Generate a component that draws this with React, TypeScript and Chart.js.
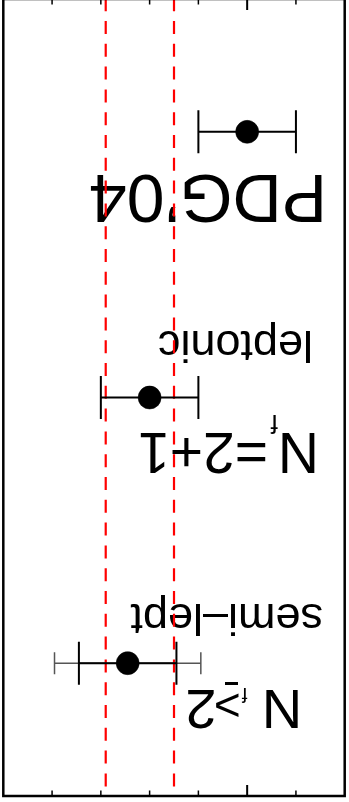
import { useEffect, useRef } from 'react';
import { Chart, registerables } from 'chart.js';

Chart.register(...registerables);

// |V_us| determinations, one row each (row index runs bottom to top)
const rowPositions = [1, 2, 3];
const centralValues = [0.22, 0.224, 0.2249];
const innerErrors = [0.002, 0.002, 0.002];
const outerErrors = [0, 0, 0.003];

// band edges drawn as dashed red lines
const bandEdges = [0.223, 0.2258];

// axis ticks (no labels shown in this view)
const minorTickValues = [0.218, 0.222, 0.224, 0.226, 0.228];
const majorTickValues = [0.22];

const X_MIN = 0.216;
const X_MAX = 0.23;
const Y_MIN = 0.5;
const Y_MAX = 3.5;

const FONT = '"Liberation Sans", Arial, Helvetica, sans-serif';
const f = (size: number) => `${size}px ${FONT}`;

const overlayPlugin = {
  id: 'vusOverlay',
  beforeDatasetsDraw(chart: any) {
    const { ctx, chartArea: a, scales } = chart;
    const x = scales.x;
    const y = scales.y;
    ctx.save();

    // row labels
    ctx.fillStyle = '#000';
    ctx.textAlign = 'left';
    ctx.textBaseline = 'alphabetic';
    ctx.font = f(68);
    ctx.fillText('PDG’04', 22, 627);
    ctx.font = f(45);
    ctx.fillText('leptonic', 36, 471);
    ctx.fillText('semi–lept', 26, 198);

    // N_f=2+1
    ctx.font = f(57);
    ctx.fillText('N', 30, 369);
    ctx.font = f(26);
    ctx.fillText('f', 71, 387);
    ctx.font = f(57);
    ctx.fillText('=2+1', 81, 369);

    // N_f≥2 (the ≥ is set as ">" over a short rule, TLatex style)
    ctx.font = f(56);
    ctx.fillText('N', 46.7, 112);
    ctx.font = f(20);
    ctx.fillText('f', 101.6, 114);
    ctx.font = f(46);
    ctx.fillText('>', 108.3, 112);
    ctx.fillRect(111, 117, 13, 3);
    ctx.font = f(56);
    ctx.fillText('2', 132.5, 112);

    // dashed band edges
    ctx.strokeStyle = '#ff0000';
    ctx.lineWidth = 2.2;
    ctx.setLineDash([13, 9.8]);
    ctx.lineDashOffset = -9.6;
    bandEdges.forEach((v) => {
      const px = x.getPixelForValue(v);
      ctx.beginPath();
      ctx.moveTo(px, a.top);
      ctx.lineTo(px, a.bottom);
      ctx.stroke();
    });
    ctx.setLineDash([]);

    // error bars
    centralValues.forEach((c, i) => {
      const py = y.getPixelForValue(rowPositions[i]);
      const outer = outerErrors[i];
      if (outer > 0) {
        const l = x.getPixelForValue(c - outer);
        const r = x.getPixelForValue(c + outer);
        ctx.strokeStyle = '#555';
        ctx.lineWidth = 1.5;
        ctx.beginPath();
        ctx.moveTo(l, py);
        ctx.lineTo(r, py);
        ctx.moveTo(l, py - 11);
        ctx.lineTo(l, py + 11);
        ctx.moveTo(r, py - 11);
        ctx.lineTo(r, py + 11);
        ctx.stroke();
      }
      const e = innerErrors[i];
      const l = x.getPixelForValue(c - e);
      const r = x.getPixelForValue(c + e);
      ctx.strokeStyle = '#000';
      ctx.lineWidth = 2;
      ctx.beginPath();
      ctx.moveTo(l, py);
      ctx.lineTo(r, py);
      ctx.moveTo(l, py - 21.5);
      ctx.lineTo(l, py + 21.5);
      ctx.moveTo(r, py - 21.5);
      ctx.lineTo(r, py + 21.5);
      ctx.stroke();
    });

    ctx.restore();
  },
  afterDraw(chart: any) {
    const { ctx, chartArea: a, scales } = chart;
    const x = scales.x;
    ctx.save();
    ctx.strokeStyle = '#000';

    // inward tick marks on top and bottom edges
    const drawTicks = (values: number[], len: number, width: number) => {
      ctx.lineWidth = width;
      ctx.beginPath();
      values.forEach((v) => {
        const px = x.getPixelForValue(v);
        ctx.moveTo(px, a.top);
        ctx.lineTo(px, a.top + len);
        ctx.moveTo(px, a.bottom);
        ctx.lineTo(px, a.bottom - len);
      });
      ctx.stroke();
    };
    drawTicks(minorTickValues, 5.5, 1.5);
    drawTicks(majorTickValues, 11, 2);

    // frame
    ctx.lineWidth = 2.5;
    ctx.strokeRect(a.left, a.top, a.right - a.left, a.bottom - a.top);
    ctx.restore();
  },
};

export default function App() {
  const canvasRef = useRef<HTMLCanvasElement>(null);

  useEffect(() => {
    document.body.style.margin = '0';
    const canvas = canvasRef.current;
    if (!canvas) return;
    const chart = new Chart(canvas, {
      type: 'scatter',
      data: {
        datasets: [
          {
            data: centralValues.map((v, i) => ({ x: v, y: rowPositions[i] })),
            backgroundColor: '#000',
            borderColor: '#000',
            borderWidth: 0.5,
            pointRadius: 11.5,
            pointHoverRadius: 11.5,
            clip: false,
          },
        ],
      },
      options: {
        responsive: false,
        animation: false,
        devicePixelRatio: 1,
        events: [],
        layout: { autoPadding: false, padding: { left: 4.3, right: 3.3, top: 6, bottom: 7 } },
        plugins: { legend: { display: false }, tooltip: { enabled: false } },
        scales: {
          x: { type: 'linear', min: X_MIN, max: X_MAX, display: false },
          y: { type: 'linear', min: Y_MIN, max: Y_MAX, display: false },
        },
      },
      plugins: [overlayPlugin],
    });
    return () => chart.destroy();
  }, []);

  return (
    <div
      style={{
        position: 'fixed',
        left: 0,
        top: 0,
        width: 349,
        height: 802,
        overflow: 'hidden',
        transform: 'rotate(180deg)',
        background: '#fff',
      }}
    >
      <canvas
        ref={canvasRef}
        width={349}
        height={810}
        style={{ display: 'block', width: 349, height: 810 }}
      />
    </div>
  );
}
